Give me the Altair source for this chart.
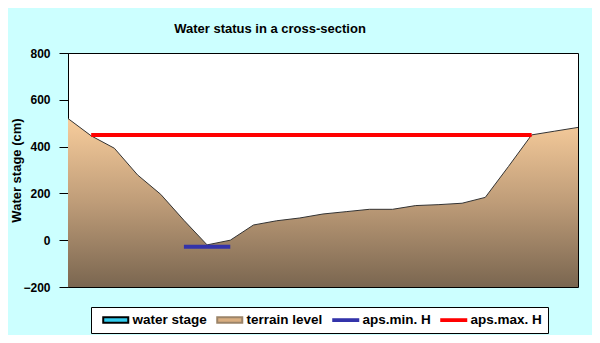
import altair as alt
import pandas as pd

# terrain cross-section profile (cm), 23 survey points
terrain = [520, 446, 393, 279, 196, 85, -20, 0, 65, 83, 95, 112, 122, 132, 132,
           148, 152, 158, 183, 315, 450, 466, 482]
point_idx = list(range(len(terrain)))

# reference levels
aps_max_h = 450
aps_max_range = [1, 20]
aps_min_h = -28
aps_min_range = [5, 7]

legend_items = ["water stage", "terrain level", "aps.min. H", "aps.max. H"]
legend_fill = ["#33CCEE", "#D9AE80", "#3333AA", "#FF0000"]
legend_stroke = ["#000000", "#9C8468", "#3333AA", "#FF0000"]

rect_path = "M-2.78,-0.6L2.78,-0.6L2.78,0.6L-2.78,0.6Z"
line_path = "M-2.78,-0.2L2.78,-0.2L2.78,0.2L-2.78,0.2Z"
legend_shapes = [rect_path, rect_path, line_path, line_path]

FONT = "Liberation Sans"

terrain_df = pd.DataFrame({"x": point_idx, "y": terrain})
max_df = pd.DataFrame({"x": aps_max_range, "y": [aps_max_h, aps_max_h]})
min_df = pd.DataFrame({"x": aps_min_range, "y": [aps_min_h, aps_min_h]})
legend_df = pd.DataFrame({"item": legend_items})

xs = alt.Scale(domain=[0, 22], nice=False, zero=False)
ys = alt.Scale(domain=[-200, 800], nice=False)

x_enc = alt.X("x:Q", scale=xs, axis=None)
y_axis = alt.Axis(values=[-200, 0, 200, 400, 600, 800], grid=False, tickSize=9,
                  labelPadding=9, labelFont=FONT, labelFontSize=12, labelFontWeight="bold",
                  labelColor="black", tickColor="black", domainColor="black",
                  title="Water stage (cm)", titleFont=FONT, titleFontSize=13,
                  titleFontWeight="bold", titleColor="black",
                  titleX=-52, titleY=117, titleAlign="center", titleBaseline="middle",
                  titleAngle=270)

grad = alt.Gradient(
    gradient="linear",
    stops=[alt.GradientStop(color="#F8CD9C", offset=0),
           alt.GradientStop(color="#BE9C78", offset=0.5),
           alt.GradientStop(color="#7A6650", offset=1)],
    x1=0, x2=0, y1=0, y2=1,
)

area = alt.Chart(terrain_df).mark_area(color=grad).encode(
    x=x_enc,
    y=alt.Y("y:Q", scale=ys, axis=y_axis),
    y2=alt.Y2(datum=-200),
)
outline = alt.Chart(terrain_df).mark_line(color="#333333", strokeWidth=1).encode(
    x=x_enc, y=alt.Y("y:Q", scale=ys)
)
max_line = alt.Chart(max_df).mark_line(color="#FF0000", strokeWidth=4).encode(
    x=x_enc, y=alt.Y("y:Q", scale=ys)
)
min_line = alt.Chart(min_df).mark_line(color="#3333AA", strokeWidth=4).encode(
    x=x_enc, y=alt.Y("y:Q", scale=ys)
)

leg = alt.Legend(title=None, orient="none", legendX=23, legendY=254, direction="horizontal",
                 fillColor="white", strokeColor="black", padding=6,
                 labelFont=FONT, labelFontSize=13.5, labelFontWeight="bold", labelColor="black",
                 symbolSize=81, symbolStrokeWidth=2, symbolOffset=12, labelOffset=10,
                 columnPadding=4)

legend_layer = alt.Chart(legend_df).mark_point(filled=True, opacity=1).encode(
    fill=alt.Fill("item:N", scale=alt.Scale(domain=legend_items, range=legend_fill), legend=leg, sort=legend_items),
    stroke=alt.Stroke("item:N", scale=alt.Scale(domain=legend_items, range=legend_stroke), legend=leg, sort=legend_items),
    shape=alt.Shape("item:N", scale=alt.Scale(domain=legend_items, range=legend_shapes), legend=leg, sort=legend_items),
).transform_filter("false")

chart = alt.layer(area, outline, max_line, min_line, legend_layer).properties(
    width=510, height=234,
    title=alt.TitleParams("Water status in a cross-section", font=FONT, fontSize=13,
                          fontWeight="bold", color="black", dx=-53, offset=11),
    background="#CCFFFF",
    view=alt.ViewBackground(fill="white", stroke="black", strokeWidth=1),
    autosize=alt.AutoSizeParams(type="none"),
    padding={"left": 60, "top": 45, "right": 14, "bottom": 48},
)

chart.save("out.html", embed_options={"renderer": "svg", "actions": False})
